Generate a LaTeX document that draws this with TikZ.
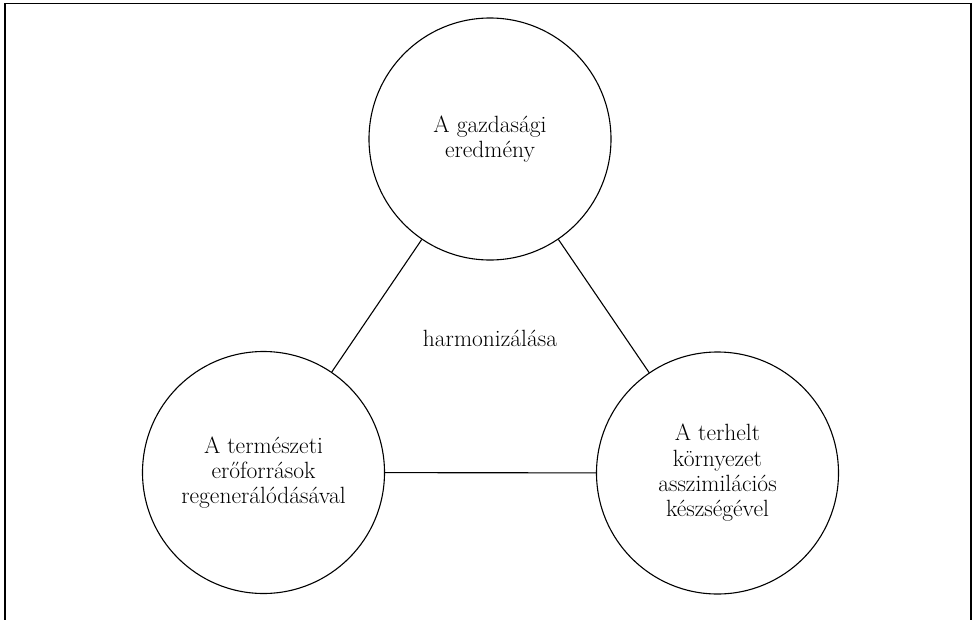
\documentclass[tikz,border=0pt]{standalone}
\begin{document}
\begin{tikzpicture}[x=1pt,y=-1pt,
  bubble/.style={circle,draw,line width=1.1pt,minimum size=242pt,inner sep=0pt,
    align=center,font=\fontsize{23.5}{25.3}\selectfont},
  link/.style={line width=1.1pt},
  label/.style={font=\fontsize{23.5}{25.3}\selectfont,inner sep=0pt}]
  \useasboundingbox (0,0) rectangle (972,619);
  \clip (0,0) rectangle (972,619);
  % outer frame, open at the lower edge of the page
  \draw[line width=1.7pt] (5,640) -- (5,3.5) -- (971,3.5) -- (971,640);
  % the three circles
  \node[bubble] (econ) at (490,139) {A gazdasági\\eredmény};
  \node[bubble] (nature) at (263.5,472.5) {A természeti\\erőforrások\\regenerálódásával};
  \node[bubble] (env) at (717.5,473) {A terhelt\\környezet\\asszimilációs\\készségével};
  % connecting lines
  \draw[link] (econ) -- (nature);
  \draw[link] (econ) -- (env);
  \draw[link] (nature) -- (env);
  % centre label
  \node[label,anchor=base] (harm) at (490,346.7) {harmonizálása};
\end{tikzpicture}
\end{document}
